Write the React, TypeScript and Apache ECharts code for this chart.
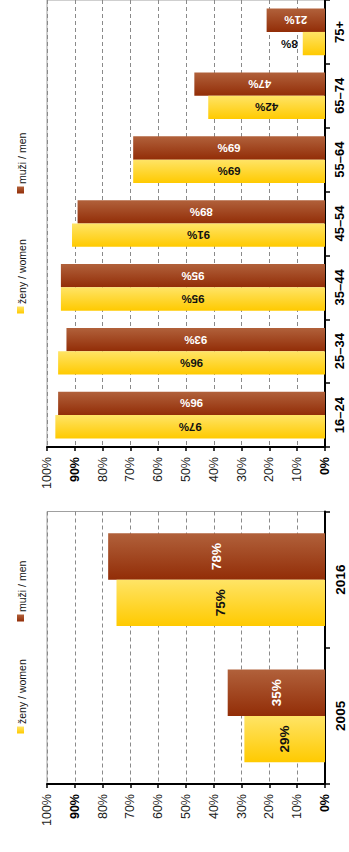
import React, { useEffect, useRef } from "react";
import * as echarts from "echarts";

const ageGroups = ["16–24", "25–34", "35–44", "45–54", "55–64", "65–74", "75+"];
const womenByAge = [97, 96, 95, 91, 69, 42, 8];
const menByAge = [96, 93, 95, 89, 69, 47, 21];

const years = ["2005", "2016"];
const womenByYear = [29, 75];
const menByYear = [35, 78];

const seriesNames = ["ženy / women", "muži / men"];

const FONT = "'Liberation Sans', Arial, sans-serif";

const menGrad = () =>
  new echarts.graphic.LinearGradient(0, 0, 0, 1, [
    { offset: 0, color: "#B1613B" },
    { offset: 1, color: "#922D07" },
  ]);
const womenGrad = () =>
  new echarts.graphic.LinearGradient(0, 0, 0, 1, [
    { offset: 0, color: "#FFE466" },
    { offset: 1, color: "#FFCA00" },
  ]);

function valueAxis(gridIndex: number) {
  return {
    type: "value",
    gridIndex,
    min: 0,
    max: 100,
    interval: 10,
    inverse: true,
    position: "bottom",
    axisLine: { show: true, onZero: false, lineStyle: { color: "#000", width: 2 } },
    axisTick: { show: true, length: 4, lineStyle: { color: "#000", width: 1.5 } },
    splitLine: { show: true, lineStyle: { color: "#8a8a8a", width: 1, type: [4, 3] } },
    axisLabel: {
      rotate: 90,
      margin: 10,
      fontFamily: FONT,
      fontSize: 12.5,
      color: "#222",
      formatter: (v: number) => (v === 90 || v === 0 ? `{b|${v}%}` : `${v}%`),
      rich: { b: { fontFamily: FONT, fontSize: 12.5, fontWeight: "bold", color: "#000" } },
    },
  };
}

function categoryAxis(gridIndex: number, data: string[], fontSize: number) {
  return {
    type: "category",
    gridIndex,
    data,
    position: "right",
    axisLine: { show: true, lineStyle: { color: "#000", width: 2 } },
    axisTick: { show: true, length: 5, lineStyle: { color: "#000", width: 1.5 } },
    splitLine: { show: false },
    axisLabel: {
      rotate: 90,
      margin: 8,
      fontFamily: FONT,
      fontSize,
      fontWeight: "bold",
      color: "#000",
    },
  };
}

function legendItems(womenY: number, menY: number) {
  const items: any[] = [];
  const add = (cy: number, text: string, fill: any) => {
    items.push({
      type: "rect",
      shape: { x: 17, y: cy - 3.5, width: 7, height: 7 },
      style: { fill },
    });
    items.push({
      type: "text",
      x: 21.5,
      y: cy - 6,
      rotation: Math.PI / 2,
      style: {
        text,
        align: "left",
        verticalAlign: "middle",
        font: `10.5px ${FONT}`,
        fill: "#111",
      },
    });
  };
  add(womenY, seriesNames[0], womenGrad());
  add(menY, seriesNames[1], menGrad());
  return items;
}

export default function App() {
  const ref = useRef<HTMLDivElement>(null);
  useEffect(() => {
    document.body.style.margin = "0";
    if (!ref.current) return;
    const chart = echarts.init(ref.current, undefined, { renderer: "svg" });
    const topLabel = (color: string) => ({
      show: true,
      position: "inside",
      rotate: 180,
      fontFamily: FONT,
      fontSize: 11.5,
      fontWeight: "bold",
      color,
      formatter: "{c}%",
    });
    const bottomLabel = (color: string) => ({
      show: true,
      position: "inside",
      rotate: 90,
      fontFamily: FONT,
      fontSize: 13.5,
      fontWeight: "bold",
      color,
      formatter: "{c}%",
    });
    const womenAgeData = womenByAge.map((v) =>
      v < 15
        ? {
            value: v,
            label: { position: "left", rotate: 180, align: "left", distance: 5, color: "#111" },
          }
        : v
    );
    chart.setOption({
      animation: false,
      backgroundColor: "#fff",
      grid: [
        {
          left: 47,
          right: 24,
          top: -3,
          height: 450,
          show: true,
          borderColor: "#a0a0a0",
          borderWidth: 1,
          backgroundColor: "transparent",
        },
        {
          left: 47,
          right: 24,
          top: 511.5,
          height: 272.5,
          show: true,
          borderColor: "#a0a0a0",
          borderWidth: 1,
          backgroundColor: "transparent",
        },
      ],
      xAxis: [valueAxis(0), valueAxis(1)],
      yAxis: [categoryAxis(0, ageGroups, 13), categoryAxis(1, years, 13.5)],
      series: [
        {
          name: seriesNames[1],
          type: "bar",
          xAxisIndex: 0,
          yAxisIndex: 0,
          data: menByAge,
          barGap: "0%",
          barCategoryGap: "27%",
          itemStyle: { color: menGrad() },
          label: topLabel("#fff"),
        },
        {
          name: seriesNames[0],
          type: "bar",
          xAxisIndex: 0,
          yAxisIndex: 0,
          data: womenAgeData,
          barGap: "0%",
          barCategoryGap: "27%",
          itemStyle: { color: womenGrad() },
          label: topLabel("#111"),
        },
        {
          name: seriesNames[1],
          type: "bar",
          xAxisIndex: 1,
          yAxisIndex: 1,
          data: menByYear,
          barGap: "0%",
          barCategoryGap: "32%",
          itemStyle: { color: menGrad() },
          label: bottomLabel("#fff"),
        },
        {
          name: seriesNames[0],
          type: "bar",
          xAxisIndex: 1,
          yAxisIndex: 1,
          data: womenByYear,
          barGap: "0%",
          barCategoryGap: "32%",
          itemStyle: { color: womenGrad() },
          label: bottomLabel("#111"),
        },
      ],
      graphic: [...legendItems(310, 190), ...legendItems(730, 618)],
    });
    return () => chart.dispose();
  }, []);
  return (
    <div
      ref={ref}
      style={{ position: "absolute", left: 0, top: 0, width: 349, height: 852 }}
    />
  );
}
